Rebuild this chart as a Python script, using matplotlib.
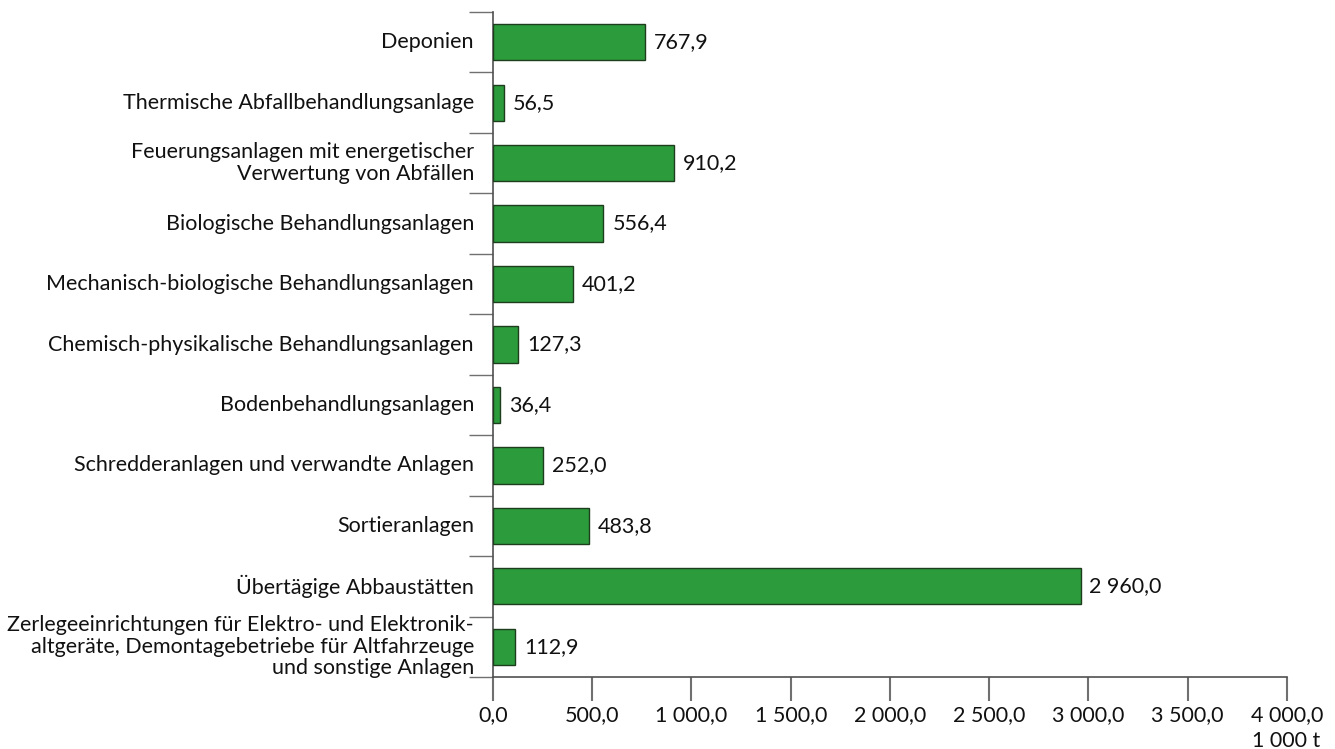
import matplotlib
matplotlib.use("Agg")
import matplotlib.pyplot as plt
import numpy as np

categories = [
    "Deponien",
    "Thermische Abfallbehandlungsanlage",
    "Feuerungsanlagen mit energetischer\nVerwertung von Abfällen",
    "Biologische Behandlungsanlagen",
    "Mechanisch-biologische Behandlungsanlagen",
    "Chemisch-physikalische Behandlungsanlagen",
    "Bodenbehandlungsanlagen",
    "Schredderanlagen und verwandte Anlagen",
    "Sortieranlagen",
    "Übertägige Abbaustätten",
    "Zerlegeeinrichtungen für Elektro- und Elektronik-\naltgeräte, Demontagebetriebe für Altfahrzeuge\nund sonstige Anlagen",
]
values = [767.9, 56.5, 910.2, 556.4, 401.2, 127.3, 36.4, 252.0, 483.8, 2960.0, 112.9]
xticks = [0, 500, 1000, 1500, 2000, 2500, 3000, 3500, 4000]

def de_fmt(v):
    s = f"{v:,.1f}"
    return s.replace(",", " ").replace(".", ",")

plt.rcParams['font.family'] = ['Lato', 'DejaVu Sans']
FS = 15.5

fig = plt.figure(figsize=(13.35, 7.49), dpi=100)
ax = fig.add_axes([0.3693, 0.0961, 0.9640 - 0.3693, 0.984 - 0.0961])

n = len(categories)
y = np.arange(n)
ax.barh(y, values, height=0.6, color='#2b9b3b', edgecolor='#1d3d1d', linewidth=1.0, zorder=3)
ax.set_ylim(n - 0.5, -0.5)
ax.set_xlim(0, 4000)

for yi, v in zip(y, values):
    ax.text(v + 45, yi, de_fmt(v), va='center', ha='left', fontsize=FS, color='#111111')

# y labels placed at bar centers, ticks at boundaries
ax.set_yticks(np.arange(-0.5, n, 1.0))
ax.set_yticklabels([])
ax.tick_params(axis='y', length=17, width=1, color='#707070', direction='out')
for yi, c in zip(y, categories):
    ax.text(-0.024, yi, c, transform=ax.get_yaxis_transform(), ha='right', va='center',
            fontsize=FS, color='#111111', multialignment='right', linespacing=1.1)

ax.set_xticks(xticks)
ax.set_xticklabels([de_fmt(v) for v in xticks], fontsize=FS, color='#111111')
ax.tick_params(axis='x', length=17, width=1.5, color='#707070', pad=3)

for s in ['top', 'right']:
    ax.spines[s].set_visible(False)
for s in ['left', 'bottom']:
    ax.spines[s].set_color('#505050')
    ax.spines[s].set_linewidth(1.2)

fig.text(1320 / 1335, 1 - 741 / 749, "1 000 t", ha='right', va='center', fontsize=FS, color='#111111')

fig.savefig("out.png", dpi=100)
